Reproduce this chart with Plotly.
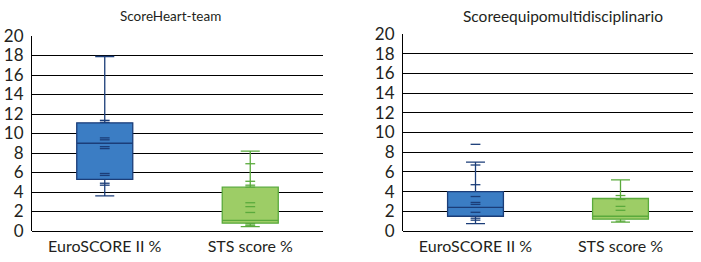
import plotly.graph_objects as go

categories = ["EuroSCORE II %", "STS score %"]

# Panel 1: ScoreHeart-team  (q1, median, q3, lower whisker, upper whisker)
heart_euro_stats = [5.3, 9.0, 11.1, 3.6, 17.9]
heart_sts_stats = [0.8, 1.1, 4.5, 0.45, 8.2]
heart_euro_points = [11.35, 11.15, 9.55, 9.35, 8.65, 8.45, 5.9, 5.7, 4.9, 4.7]
heart_sts_points = [6.9, 5.1, 4.7, 4.5, 2.9, 2.5, 1.9, 0.75, 0.6, 0.5]

# Panel 2: Score equipo multidisciplinario
multi_euro_stats = [1.5, 2.4, 4.0, 0.75, 7.0]
multi_sts_stats = [1.2, 1.5, 3.3, 0.9, 5.2]
multi_euro_points = [8.8, 6.7, 4.7, 3.5, 2.9, 2.7, 1.9, 1.3, 1.1]
multi_sts_points = [3.6, 3.2, 2.5, 2.1, 1.0]

titles = ["ScoreHeart-team", "Scoreequipomultidisciplinario"]

blue_fill, blue_line = "#3b7dc4", "#1b3d78"
green_fill, green_line = "#9dcd66", "#5aaa3c"

fig = go.Figure()

def add_box(cat, stats, pts, fill, line, xa, ya):
    q1, med, q3, lo, hi = stats
    fig.add_trace(go.Box(
        x=[cat], q1=[q1], median=[med], q3=[q3], lowerfence=[lo], upperfence=[hi],
        fillcolor=fill, line=dict(color=line, width=1.3), whiskerwidth=0.34,
        boxpoints=False, xaxis=xa, yaxis=ya, showlegend=False, hoverinfo="skip"))
    fig.add_trace(go.Scatter(
        x=[cat] * len(pts), y=pts, mode="markers",
        marker=dict(symbol="line-ew", size=7, line=dict(color=line, width=1.3)),
        xaxis=xa, yaxis=ya, showlegend=False, hoverinfo="skip"))

add_box(categories[0], heart_euro_stats, heart_euro_points, blue_fill, blue_line, "x", "y")
add_box(categories[1], heart_sts_stats, heart_sts_points, green_fill, green_line, "x", "y")
add_box(categories[0], multi_euro_stats, multi_euro_points, blue_fill, blue_line, "x2", "y2")
add_box(categories[1], multi_sts_stats, multi_sts_points, green_fill, green_line, "x2", "y2")

W, H = 701, 262
font = "Lato"
txt = "#231f20"

def xaxis(domain, anchor):
    return dict(domain=domain, anchor=anchor, type="category", categoryorder="array",
                categoryarray=categories, range=[-0.5, 1.5], showgrid=False, zeroline=False,
                showline=False, ticks="", tickfont=dict(family=font, size=16, color=txt),
                ticklabelstandoff=4, automargin=False, fixedrange=True)

def yaxis(domain, anchor):
    return dict(domain=domain, anchor=anchor, range=[0, 20], tickvals=list(range(0, 21, 2)),
                showgrid=True, gridcolor="black", gridwidth=1, zeroline=True,
                zerolinecolor="black", zerolinewidth=1, showline=True, linecolor="black",
                linewidth=1, ticks="", tickfont=dict(family=font, size=17, color=txt),
                ticklabelstandoff=4, automargin=False, fixedrange=True)

fig.update_layout(
    width=W, height=H, margin=dict(l=0, r=0, t=0, b=0),
    paper_bgcolor="white", plot_bgcolor="white",
    boxgap=0.45, boxmode="overlay",
    xaxis=xaxis([32 / W, 323 / W], "y"),
    yaxis=yaxis([1 - 231 / H, 1 - 36 / H], "x"),
    xaxis2=xaxis([403 / W, 693 / W], "y2"),
    yaxis2=yaxis([1 - 231 / H, 1 - 34 / H], "x2"),
    annotations=[
        dict(text=titles[0], x=170 / W, y=1 - 16 / H, xref="paper", yref="paper",
             showarrow=False, font=dict(family=font, size=13.5, color=txt),
             xanchor="center", yanchor="middle"),
        dict(text=titles[1], x=563 / W, y=1 - 16 / H, xref="paper", yref="paper",
             showarrow=False, font=dict(family=font, size=15.5, color=txt),
             xanchor="center", yanchor="middle"),
    ],
)

fig.write_html("out.html", config={"displayModeBar": False, "staticPlot": True},
               post_script="document.body.style.margin='0';document.body.style.overflow='hidden';")
